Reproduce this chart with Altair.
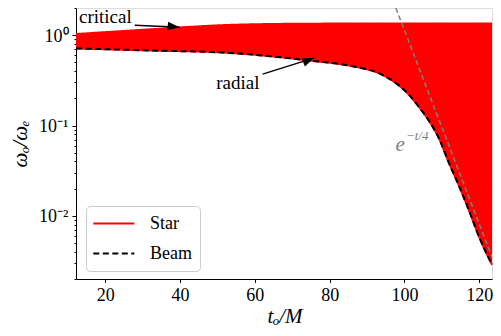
import altair as alt
import pandas as pd

# ---- data ----
t_vals = [12.2, 31.9, 53.3, 64.0, 75.4, 86.1, 93.3, 95.9, 98.6, 101.3, 103.9, 106.6, 109.3, 111.9, 114.6, 117.3, 119.9, 123.4]
radial = [0.713, 0.678, 0.637, 0.586, 0.520, 0.454, 0.377, 0.331, 0.2765, 0.2173, 0.160, 0.1122, 0.0709, 0.0385, 0.0214, 0.01135, 0.00593, 0.00288]
critical = [1.03, 1.16, 1.30, 1.33, 1.34, 1.35, 1.35, 1.35, 1.35, 1.35, 1.35, 1.35, 1.35, 1.35, 1.35, 1.35, 1.35, 1.35]

exp_t = [97.7, 123.4]
exp_y = [2.0, 0.0035]

series_names = ["Star", "Beam"]
series_colors = ["red", "black"]

x_ticks = [20, 40, 60, 80, 100, 120]
y_ticks = [0.002, 0.003, 0.004, 0.005, 0.006, 0.007, 0.008, 0.009,
           0.01, 0.02, 0.03, 0.04, 0.05, 0.06, 0.07, 0.08, 0.09,
           0.1, 0.2, 0.3, 0.4, 0.5, 0.6, 0.7, 0.8, 0.9, 1, 2]
y_major = [0.01, 0.1, 1]
y_major_labels = ["10⁻²", "10⁻¹", "10⁰"]

annot_text = ["critical", "radial"]
annot_t = [13.0, 49.7]
annot_y = [1.37, 0.253]
arrow_start_t = [27.9, 62.1]
arrow_start_y = [1.29, 0.371]
arrow_tip_t = [39.9, 75.9]
arrow_tip_y = [1.226, 0.561]
arrow_angle = [6, 337]

exp_label = ["e", "−t/4"]
exp_label_t = [97.6, 100.4]
exp_label_y = [0.0523, 0.0692]
exp_label_size = [21, 13]

FONT = "Liberation Serif"

# ---- tables ----
band = pd.DataFrame({"t": t_vals, "radial": radial, "critical": critical})
lines = pd.concat([
    pd.DataFrame({"t": t_vals, "v": critical, "series": "Star", "edge": "crit"}),
    pd.DataFrame({"t": t_vals, "v": radial, "series": "Star", "edge": "rad"}),
    pd.DataFrame({"t": t_vals, "v": radial, "series": "Beam", "edge": "beam"}),
])
expline = pd.DataFrame({"t": exp_t, "v": exp_y})
annots = pd.DataFrame({"label": annot_text, "t": annot_t, "v": annot_y})
arrows = pd.DataFrame({"t": arrow_start_t, "v": arrow_start_y,
                       "t2": arrow_tip_t, "v2": arrow_tip_y, "ang": arrow_angle})
explab = pd.DataFrame({"label": exp_label, "t": exp_label_t, "v": exp_label_y, "size": exp_label_size})

xs = alt.Scale(domain=[12.2, 123.4], nice=False, zero=False)
ys = alt.Scale(type="log", domain=[0.002, 2], nice=False)

label_expr = " : ".join(
    f"datum.value == {v} ? '{l}'" for v, l in zip(y_major, y_major_labels)
) + " : ''"

major_test = " || ".join(f"datum.value == {v}" for v in y_major)

xaxis = alt.Axis(values=x_ticks, title="tₒ/M", grid=False,
                 labelFont=FONT, labelFontSize=18, labelColor="black",
                 labelPadding=18, labelBaseline="alphabetic", labelFlush=False,
                 tickSize=3.5, tickColor="black", domainColor="black",
                 titleFont=FONT, titleFontSize=21, titleFontStyle="italic",
                 titleFontWeight="normal", titleColor="black",
                 titleX=208.5, titleY=43, titleAlign="center", titleBaseline="alphabetic")
yaxis = alt.Axis(values=y_ticks, labelExpr=label_expr, title="ωₒ/ωₑ", grid=False,
                 labelFont=FONT, labelFontSize=18, labelColor="black",
                 labelPadding=4, labelOverlap=False, labelFlush=False, labelOffset=1,
                 tickSize={"condition": {"test": major_test, "value": 4}, "value": 2},
                 tickColor="black", domainColor="black",
                 titleFont=FONT, titleFontSize=21, titleFontStyle="italic",
                 titleFontWeight="normal", titleColor="black",
                 titleX=-56, titleY=135.5, titleAlign="center", titleBaseline="middle")

area = alt.Chart(band).mark_area(color="red", interpolate="monotone").encode(
    x=alt.X("t:Q", scale=xs, axis=xaxis),
    y=alt.Y("radial:Q", scale=ys, axis=yaxis),
    y2="critical:Q",
)

legend = alt.Legend(title=None, orient="none", legendX=10, legendY=198,
                    symbolType="M -2.5 0 L 2.5 0", symbolSize=269, symbolStrokeWidth=2,
                    symbolOffset=10.3, labelOffset=26.6,
                    labelFont=FONT, labelFontSize=18, labelColor="black",
                    rowPadding=11, padding=8,
                    strokeColor="#cccccc", cornerRadius=4, fillColor="white")

line_layer = alt.Chart(lines).mark_line(interpolate="monotone", strokeWidth=2).encode(
    x="t:Q",
    y="v:Q",
    detail="edge:N",
    color=alt.Color("series:N", scale=alt.Scale(domain=series_names, range=series_colors), legend=legend),
    strokeDash=alt.StrokeDash("series:N", scale=alt.Scale(domain=series_names, range=[[1, 0], [6, 3.5]]), legend=legend),
)

exp_layer = alt.Chart(expline).mark_line(color="gray", strokeDash=[5, 3], strokeWidth=1.5, clip=True).encode(
    x="t:Q", y="v:Q"
)

annot_layer = alt.Chart(annots).mark_text(font=FONT, fontSize=19, align="left", baseline="alphabetic", color="black").encode(
    x="t:Q", y="v:Q", text="label:N"
)

rule_layer = alt.Chart(arrows).mark_rule(color="black", strokeWidth=1.5).encode(
    x="t:Q", y="v:Q", x2="t2:Q", y2="v2:Q"
)

head_layer = alt.Chart(arrows).mark_point(
    shape="M 0 0 L -1 -0.36 L -1 0.36 Z", filled=True, color="black", opacity=1, size=576
).encode(
    x="t2:Q", y="v2:Q", angle=alt.Angle("ang:Q", scale=None)
)

exp_text = alt.Chart(explab).mark_text(font=FONT, fontStyle="italic", align="left", baseline="alphabetic", color="gray").encode(
    x="t:Q", y="v:Q", text="label:N", size=alt.Size("size:Q", scale=None, legend=None)
)

chart = alt.layer(area, line_layer, exp_layer, rule_layer, head_layer, annot_layer, exp_text).properties(
    width=416, height=271,
    autosize=alt.AutoSizeParams(type="none"),
    padding={"left": 68, "top": 0, "right": 1, "bottom": 49},
).configure_view(stroke="black", strokeWidth=1).configure(background="white")

chart.save("out.html", embed_options={"renderer": "svg", "actions": False})
